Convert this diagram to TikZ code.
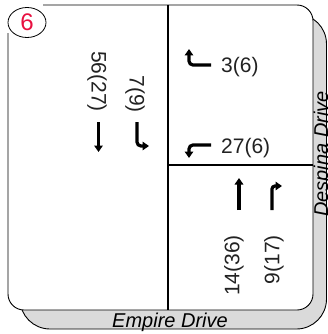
\documentclass[tikz,border=0pt]{standalone}
\usepackage{fontspec}
\setmainfont{Liberation Sans}
\usetikzlibrary{arrows.meta,shapes.geometric}
\definecolor{rimgray}{RGB}{218,218,218}
\definecolor{numred}{RGB}{232,16,64}
\definecolor{inkgray}{RGB}{34,34,34}

\begin{document}
\begin{tikzpicture}[x=1pt,y=-1pt,
  vol/.style={font=\fontsize{21}{21}\selectfont,text=inkgray,inner sep=0pt},
  street/.style={font=\fontsize{20}{20}\selectfont\itshape,inner sep=0pt},
  arr/.style={-{Triangle[length=6.5pt,width=8.5pt]},line width=3.2pt,rounded corners=4pt},
  curb/.style={line width=1.8pt}
]
\useasboundingbox (0,0) rectangle (327,334);

% plate with its shaded rim
\draw[fill=rimgray,line width=0.9pt,rounded corners=30pt] (20,14) rectangle (326.5,329);
\draw[fill=white,line width=0.9pt,rounded corners=16pt] (8,5) rectangle (313,310);
\draw[curb] (168,5) -- (168,310);
\draw[curb] (168,165) -- (313,165);

% intersection number
\fill[white] (6,3) rectangle (43,33);
\node[draw,ellipse,line width=0.8pt,fill=white,minimum width=38pt,minimum height=30pt,inner sep=0pt,
  text=numred,font=\fontsize{24}{24}\selectfont] (num) at (27,22.5) {6};

% southbound
\node[vol,rotate=-90,anchor=east] (sthru) at (97,112) {56(27)};
\node[vol,rotate=-90,anchor=east] (sleft) at (135,113) {7(9)};
\draw[arr] (98.5,122) -- (98.5,152);
\draw[arr] (137,122) -- (137,146) -- (149,146);

% westbound
\node[vol,anchor=west] (wright) at (221,67) {3(6)};
\node[vol,anchor=west] (wleft) at (221,148) {27(6)};
\draw[arr] (211,65) -- (189,65) -- (189,49);
\draw[arr] (211,145) -- (189,145) -- (189,158);

% northbound
\node[vol,rotate=90,anchor=east] (nthru) at (234,235) {14(36)};
\node[vol,rotate=90,anchor=east] (nright) at (274,235) {9(17)};
\draw[arr] (239,210) -- (239,178);
\draw[arr,rounded corners=3pt] (272,210) -- (272,186) -- (282,186);

% street names
\node[street,anchor=base] (empire) at (170,327) {Empire Drive};
\node[street,rotate=90,anchor=base] (despina) at (328,154) {Despina Drive};
\end{tikzpicture}
\end{document}
